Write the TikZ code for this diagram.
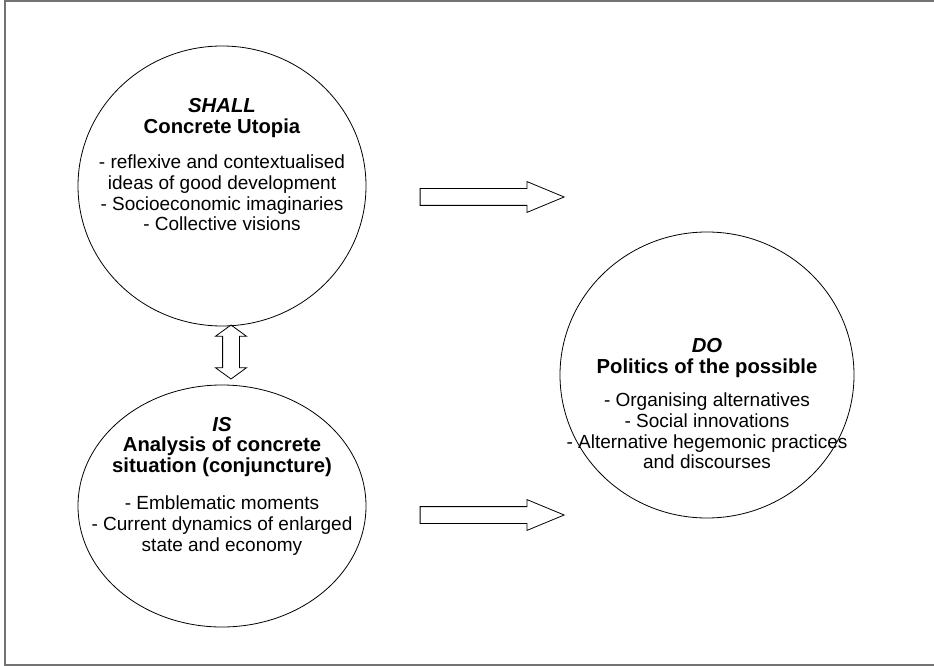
\documentclass[tikz,border=0pt]{standalone}
\usepackage{fontspec}
\setmainfont{Liberation Sans}
\usetikzlibrary{shapes.geometric,shapes.arrows}
\newcommand\hdline[1]{{\fontsize{15.2pt}{17pt}\selectfont\bfseries #1}}
\begin{document}
\begin{tikzpicture}[x=0.75pt,y=-0.75pt,
  oval/.style={draw=black,line width=0.6pt,ellipse,inner sep=0pt},
  body/.style={align=center,font=\fontsize{14.25pt}{15.5pt}\selectfont,inner sep=0pt},
  blockarrow/.style={draw=black,line width=0.6pt,single arrow,inner xsep=0pt,inner ysep=6pt,
    single arrow head extend=5.25pt,single arrow tip angle=45,minimum height=108pt},
  twoway/.style={draw=black,line width=0.6pt,double arrow,inner xsep=0pt,inner ysep=6pt,
    double arrow head extend=5.25pt,double arrow tip angle=108,minimum height=40.5pt,rotate=90},
  frameline/.style={draw=black!55,line width=1.5pt}
]
\useasboundingbox (0,0) rectangle (934,666);
\draw[frameline] (945,1.5) -- (4.5,1.5) -- (4.5,664.5) -- (945,664.5);

\node[oval,minimum width=216pt,minimum height=210pt] (shall) at (222,186) {};
\node[oval,minimum width=216pt,minimum height=181.5pt] (is) at (222,506) {};
\node[oval,minimum width=220.5pt,minimum height=214.5pt] (do) at (707,375) {};

\node[body] (shalltext) at (222,165) {\hdline{\itshape SHALL}\\ \hdline{Concrete Utopia}\\[11pt]
 - reflexive and contextualised\\ ideas of good development\\ - Socioeconomic imaginaries\\ - Collective visions};
\node[body] (istext) at (222,486) {\hdline{\itshape IS}\\ \hdline{Analysis of concrete}\\ \hdline{situation (conjuncture)}\\[12.5pt]
 - Emblematic moments\\ - Current dynamics of enlarged\\ state and economy};
\node[body] (dotext) at (707,404) {\hdline{\itshape DO}\\ \hdline{Politics of the possible}\\[9.5pt]
 - Organising alternatives\\ - Social innovations\\ - Alternative hegemonic practices\\ and discourses};

\node[blockarrow] (toparrow) at (482,197) {};
\node[blockarrow] (botarrow) at (482,515) {};
\node[twoway] (updown) at (231,352) {};
\end{tikzpicture}
\end{document}
